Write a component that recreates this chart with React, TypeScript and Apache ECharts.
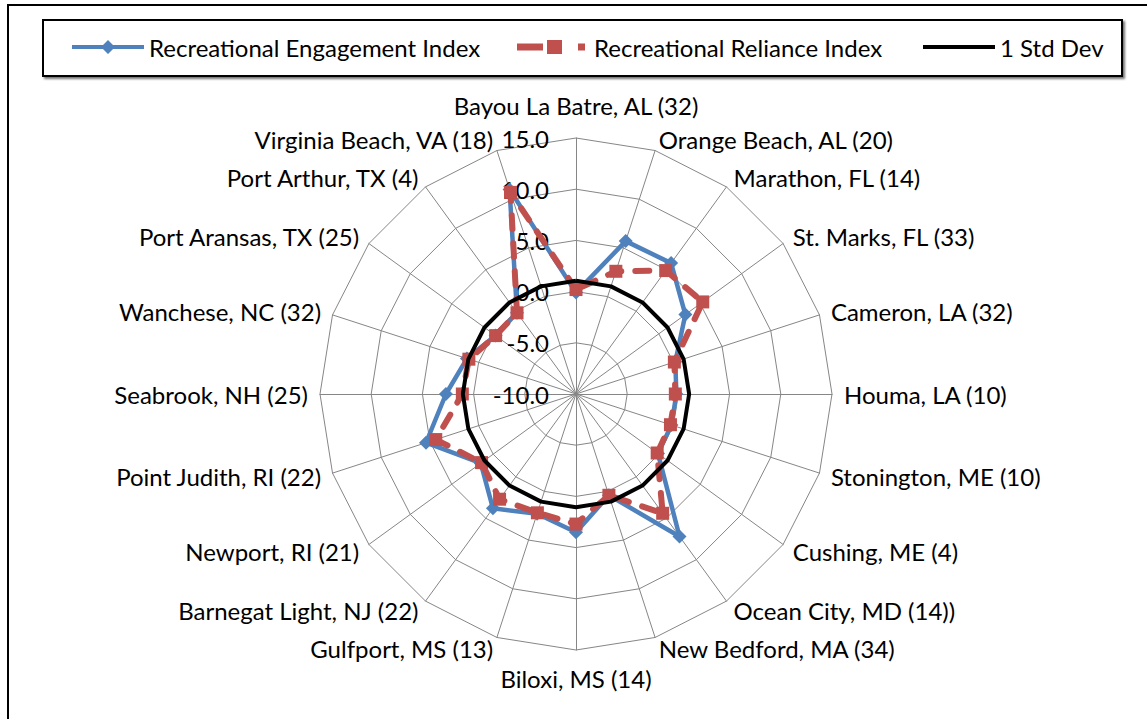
import React, { useEffect, useRef } from "react";
import * as echarts from "echarts";

// Categories listed clockwise from the top, as in the reference.
const categories = [
  "Bayou La Batre, AL (32)",
  "Orange Beach, AL (20)",
  "Marathon, FL (14)",
  "St. Marks, FL (33)",
  "Cameron, LA (32)",
  "Houma, LA (10)",
  "Stonington, ME (10)",
  "Cushing, ME (4)",
  "Ocean City, MD (14))",
  "New Bedford, MA (34)",
  "Biloxi, MS (14)",
  "Gulfport, MS (13)",
  "Barnegat Light, NJ (22)",
  "Newport, RI (21)",
  "Point Judith, RI (22)",
  "Seabrook, NH (25)",
  "Wanchese, NC (32)",
  "Port Aransas, TX (25)",
  "Port Arthur, TX (4)",
  "Virginia Beach, VA (18)",
];

const engagement = [-0.1, 5.7, 5.8, 3.2, 0.2, -0.2, -0.2, -0.1, 7.2, 0.4, 3.5, 2.3, 3.8, 1.5, 5.4, 2.7, 1.2, -0.3, -0.2, 11.0];
const reliance = [0.2, 2.6, 4.9, 5.3, 0.1, -0.3, -0.3, -0.2, 4.4, 0.4, 2.7, 2.2, 2.7, 1.4, 4.4, 1.1, 1.0, -0.3, -0.2, 10.7];
const stdDev = [1.05, 1.05, 1.05, 1.05, 1.05, 1.05, 1.05, 1.05, 1.05, 1.05, 1.05, 1.05, 1.05, 1.05, 1.05, 1.05, 1.05, 1.05, 1.05, 1.05];

const seriesNames = ["Recreational Engagement Index", "Recreational Reliance Index", "1 Std Dev"];
const axisMin = -10;
const axisMax = 15;
const axisSplits = 5;

const FONT = "Lato, 'Open Sans', sans-serif";
const FS = 24;
const BLUE = "#4F81BD";
const RED = "#C0504D";
const BLACK = "#000000";
const GRID = "#868686";

export default function App() {
  const ref = useRef<HTMLDivElement>(null);

  useEffect(() => {
    const chart = echarts.init(ref.current!, null, { renderer: "svg" });

    // ECharts places radar axes counter-clockwise; reorder so they run clockwise.
    const order = [0, ...categories.map((_, i) => i).slice(1).reverse()];
    const pick = (arr: any[]) => order.map((i) => arr[i]);

    const indicator = order.map((orig: number, i: number) => {
      const ind: any = { name: categories[orig], min: axisMin, max: axisMax };
      if (i === 0) ind.axisLabel = { show: true };
      if (orig === 0) ind.nameGap = 21;
      if (orig === categories.length / 2) ind.nameGap = 16;
      return ind;
    });

    const legendBase = {
      top: 35,
      padding: 0,
      itemWidth: 72,
      itemHeight: 14,
      symbolKeepAspect: true,
      itemStyle: { borderWidth: 0 },
      textStyle: { color: "#000", fontSize: FS, fontFamily: FONT },
      selectedMode: false,
      z: 10,
    };

    const option: any = {
      animation: false,
      backgroundColor: "#ffffff",
      textStyle: { fontFamily: FONT },
      graphic: [
        {
          type: "rect",
          z: 0,
          shape: { x: 8, y: 5, width: 1150, height: 730 },
          style: { fill: "none", stroke: "#000", lineWidth: 2 },
        },
        {
          type: "rect",
          z: 1,
          shape: { x: 43, y: 20, width: 1079, height: 56 },
          style: {
            fill: "#fff",
            stroke: "#000",
            lineWidth: 2,
            shadowBlur: 2,
            shadowOffsetX: 2,
            shadowOffsetY: 2,
            shadowColor: "rgba(0,0,0,0.55)",
          },
        },
      ],
      legend: [
        {
          ...legendBase,
          left: 72,
          data: [{ name: seriesNames[0], icon: "path://M0 5H72V9H0Z M29 7L36 0L43 7L36 14Z" }],
        },
        {
          ...legendBase,
          left: 517,
          data: [{ name: seriesNames[1], icon: "path://M0 3.5H26V10.5H0Z M30 0H45V14H30Z M61 3.5H68V10.5H61Z M0 0H0.01V0.01H0Z M71.99 13.99H72V14H71.99Z" }],
        },
        {
          ...legendBase,
          left: 923,
          data: [{ name: seriesNames[2], icon: "path://M0 5H72V9H0Z" }],
        },
      ],
      radar: {
        center: [576, 394],
        radius: 256,
        startAngle: 90,
        shape: "polygon",
        splitNumber: axisSplits,
        indicator,
        nameGap: 12,
        axisName: { color: "#000", fontSize: FS, fontFamily: FONT },
        axisLine: { lineStyle: { color: GRID, width: 1 } },
        splitLine: { lineStyle: { color: GRID, width: 1 } },
        splitArea: { show: false },
        axisTick: { show: false },
        axisLabel: {
          show: false,
          color: "#000",
          fontSize: FS,
          fontFamily: FONT,
          margin: 27,
          formatter: (v: number) => Number(v).toFixed(1),
        },
      },
      series: [
        {
          type: "radar",
          z: 2,
          data: [
            {
              name: seriesNames[0],
              value: pick(engagement),
              symbol: "diamond",
              symbolSize: 14,
              itemStyle: { color: BLUE },
              lineStyle: { color: BLUE, width: 4.5 },
            },
          ],
        },
        {
          type: "radar",
          z: 3,
          data: [
            {
              name: seriesNames[1],
              value: pick(reliance),
              symbol: "rect",
              symbolSize: 13,
              itemStyle: { color: RED },
              lineStyle: { color: RED, width: 6, type: [14, 14], cap: "round" },
            },
          ],
        },
        {
          type: "radar",
          z: 4,
          data: [
            {
              name: seriesNames[2],
              value: pick(stdDev),
              symbol: "none",
              itemStyle: { color: BLACK },
              lineStyle: { color: BLACK, width: 4 },
            },
          ],
        },
      ],
    };

    chart.setOption(option);
    return () => chart.dispose();
  }, []);

  return (
    <div
      ref={ref}
      style={{ position: "absolute", left: 0, top: 0, width: 1147, height: 719, background: "#fff" }}
    />
  );
}
